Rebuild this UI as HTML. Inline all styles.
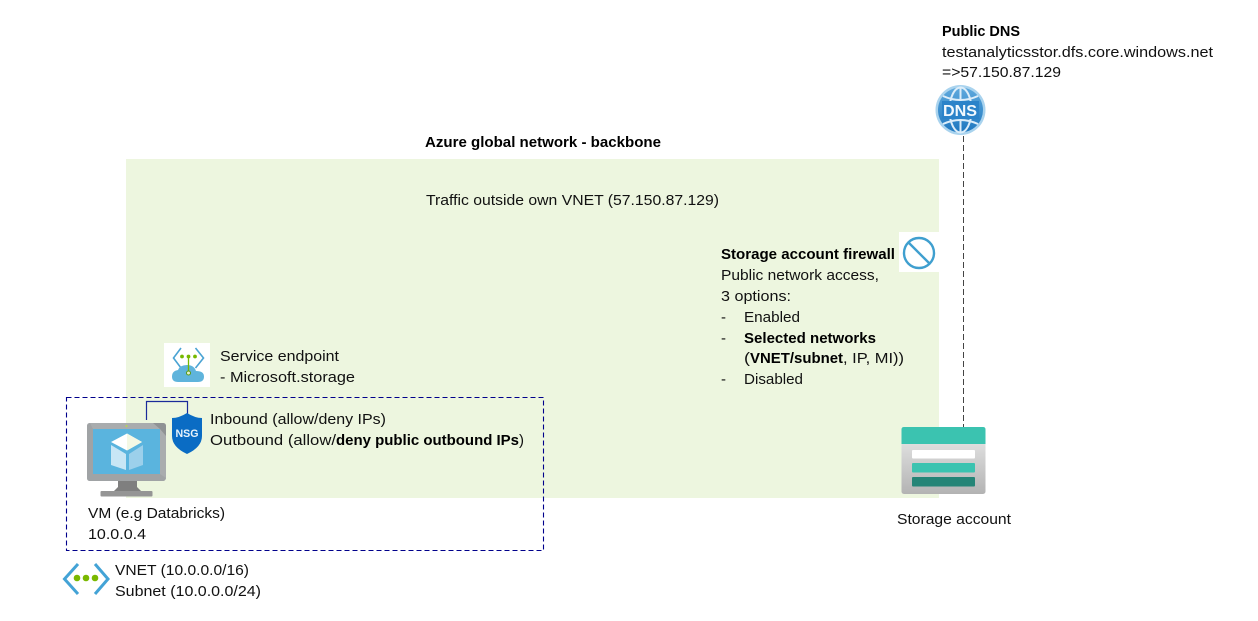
<!DOCTYPE html>
<html>
<head>
<meta charset="utf-8">
<style>
html,body{margin:0;padding:0;background:#fff;width:1258px;height:621px;overflow:hidden}
svg{display:block}
text{font-family:"Liberation Sans",sans-serif;font-size:15px;fill:#111}
.b{font-weight:bold;fill:#000}
</style>
</head>
<body>
<svg width="1258" height="621" viewBox="0 0 1258 621" xmlns="http://www.w3.org/2000/svg">
<defs>
<linearGradient id="sg" x1="0" y1="0" x2="0" y2="1"><stop offset="0" stop-color="#ececec"/><stop offset="1" stop-color="#b3b3b3"/></linearGradient>
<linearGradient id="dn" x1="0" y1="0" x2="0" y2="1"><stop offset="0" stop-color="#5ea9dd"/><stop offset="1" stop-color="#1f78c0"/></linearGradient>
</defs>
<rect x="126" y="159" width="813" height="339" fill="#edf6df"/>

<!-- DNS dashed line -->
<line x1="963.5" y1="136" x2="963.5" y2="427" stroke="#444" stroke-width="1" stroke-dasharray="6 3"/>

<!-- VNET dashed box -->
<rect x="66.5" y="397.5" width="477" height="153" fill="none" stroke="#00008b" stroke-width="1.1" stroke-dasharray="5 3"/>

<!-- Top text -->
<text class="b" x="942" y="36" textLength="78" lengthAdjust="spacingAndGlyphs">Public DNS</text>
<text x="942" y="57" textLength="271" lengthAdjust="spacingAndGlyphs">testanalyticsstor.dfs.core.windows.net</text>
<text x="942" y="77" textLength="119" lengthAdjust="spacingAndGlyphs">=&gt;57.150.87.129</text>
<text class="b" x="425" y="147" textLength="236" lengthAdjust="spacingAndGlyphs">Azure global network - backbone</text>
<text x="426" y="205" textLength="293" lengthAdjust="spacingAndGlyphs">Traffic outside own VNET (57.150.87.129)</text>

<!-- Firewall text -->
<text class="b" x="721" y="259" textLength="174" lengthAdjust="spacingAndGlyphs">Storage account firewall</text>
<text x="721" y="280" textLength="158" lengthAdjust="spacingAndGlyphs">Public network access,</text>
<text x="721" y="301" textLength="70" lengthAdjust="spacingAndGlyphs">3 options:</text>
<text x="721" y="322">-</text>
<text x="744" y="322" textLength="56" lengthAdjust="spacingAndGlyphs">Enabled</text>
<text x="721" y="343">-</text>
<text class="b" x="744" y="343" textLength="132" lengthAdjust="spacingAndGlyphs">Selected networks</text>
<text x="744" y="363" textLength="6" lengthAdjust="spacingAndGlyphs">(</text>
<text class="b" x="750" y="363" textLength="93" lengthAdjust="spacingAndGlyphs">VNET/subnet</text>
<text x="843" y="363" textLength="61" lengthAdjust="spacingAndGlyphs">, IP, MI))</text>
<text x="721" y="384">-</text>
<text x="744" y="384" textLength="59" lengthAdjust="spacingAndGlyphs">Disabled</text>

<!-- No-entry icon -->
<rect x="899" y="232" width="40" height="40" fill="#fff"/>
<circle cx="919" cy="253" r="15" fill="none" stroke="#3f9fcf" stroke-width="2.4"/>
<line x1="908.5" y1="242.5" x2="929.5" y2="263.5" stroke="#3f9fcf" stroke-width="2.4"/>

<!-- DNS icon -->
<circle cx="960.5" cy="110" r="25" fill="#a9d3ee"/>
<circle cx="960.5" cy="110" r="22.5" fill="url(#dn)"/>
<g fill="none" stroke="#dcedf9" stroke-width="2">
<ellipse cx="960.5" cy="110" rx="11" ry="22.5"/>
<path d="M943 96Q960.5 104 978 96M943 124Q960.5 116 978 124"/>
<path d="M960.5 87.500V132.500"/>
</g>
<rect x="942" y="101" width="37" height="18" fill="#2b83c9"/>
<text x="943" y="116" textLength="34" lengthAdjust="spacingAndGlyphs" style="font-size:16px;font-weight:bold;fill:#f2f9fe">DNS</text>

<!-- Service endpoint icon -->
<rect x="164" y="343" width="46" height="44" fill="#fff"/>
<path d="M181 348L173.500 358L181 368M195.500 348L203.500 358L195.500 368" fill="none" stroke="#4aa3d3" stroke-width="1.6"/>
<path d="M178 382Q172 382 172 376.500Q172 371 178 370Q180 365 187 365Q194 365 196 371Q204 371 204 376.500Q204 382 198 382Z" fill="#5fb4dc"/>
<circle cx="182" cy="356.500" r="1.900" fill="#76b900"/><circle cx="188.500" cy="356.500" r="1.900" fill="#76b900"/><circle cx="195" cy="356.500" r="1.900" fill="#76b900"/>
<line x1="188.500" y1="356.500" x2="188.500" y2="373" stroke="#76b900" stroke-width="1.300"/>
<circle cx="188.500" cy="373" r="2" fill="#e4f2d0" stroke="#5c9a10"/>
<text x="220" y="361" textLength="119" lengthAdjust="spacingAndGlyphs">Service endpoint</text>
<text x="220" y="382" textLength="135" lengthAdjust="spacingAndGlyphs">- Microsoft.storage</text>

<!-- Connector VM-NSG -->
<path d="M146.500 420V401.500H187.500V414" fill="none" stroke="#1a2a9a" stroke-width="1.200"/>

<!-- Monitor -->
<path d="M118 480H137V487L141 491H114L118 487Z" fill="#7f7f7f"/>
<rect x="100.500" y="491" width="52" height="5.500" rx="1" fill="#959595"/>
<rect x="87" y="423" width="79" height="58" rx="3" fill="#a9acae"/>
<path d="M87 426Q87 423 90 423L93 429V474H160L166 478Q165 481 163 481H90Q87 481 87 478Z" fill="#a0a3a5"/>
<path d="M153 423H163Q166 423 166 426V436L160 429Z" fill="#8f9294"/>
<circle cx="126.500" cy="426" r="1" fill="#b5d94c"/>
<rect x="93" y="429" width="67" height="45" fill="#5ab4de"/>
<path d="M127 433.500L111 442L127 450.500L142 442Z" fill="#fff"/>
<path d="M127 433.500L142 442L127 450.500Z" fill="#f4f8e4"/>
<path d="M111 445V465L126 470V454Z" fill="#c8e6f5"/>
<path d="M129 454V470L143 465V445Z" fill="#9cd0eb"/>

<!-- NSG shield -->
<path d="M187 413Q179 418 172 418V436Q172 447 187 454Q202 447 202 436V418Q195 418 187 413Z" fill="#0a6cc4"/>
<text x="175.500" y="437" textLength="23" lengthAdjust="spacingAndGlyphs" style="font-size:11px;font-weight:bold;fill:#e8f3fb">NSG</text>

<!-- NSG text -->
<text x="210" y="424" textLength="176" lengthAdjust="spacingAndGlyphs">Inbound (allow/deny IPs)</text>
<text x="210" y="445" textLength="126" lengthAdjust="spacingAndGlyphs">Outbound (allow/</text>
<text class="b" x="336" y="445" textLength="183" lengthAdjust="spacingAndGlyphs">deny public outbound IPs</text>
<text x="519" y="445" textLength="5" lengthAdjust="spacingAndGlyphs">)</text>

<!-- VM text -->
<text x="88" y="518" textLength="137" lengthAdjust="spacingAndGlyphs">VM (e.g Databricks)</text>
<text x="88" y="539" textLength="58" lengthAdjust="spacingAndGlyphs">10.0.0.4</text>

<!-- VNET icon -->
<path d="M78 564L64.500 579L78 594M95 564L108 579L95 594" fill="none" stroke="#43a3d6" stroke-width="3"/>
<circle cx="77" cy="578" r="3.300" fill="#7ab800"/><circle cx="86" cy="578" r="3.300" fill="#7ab800"/><circle cx="95" cy="578" r="3.300" fill="#7ab800"/>
<text x="115" y="575" textLength="134" lengthAdjust="spacingAndGlyphs">VNET (10.0.0.0/16)</text>
<text x="115" y="596" textLength="146" lengthAdjust="spacingAndGlyphs">Subnet (10.0.0.0/24)</text>

<!-- Storage icon -->
<rect x="901.500" y="427" width="84" height="67" rx="2.500" fill="url(#sg)"/>
<path d="M901.500 444V429.500Q901.500 427 904 427H983Q985.500 427 985.500 429.500V444Z" fill="#3bc3b0"/>
<rect x="912" y="450" width="63" height="8.500" rx="1" fill="#fff"/>
<rect x="912" y="463" width="63" height="9.500" rx="1" fill="#3bc3b0"/>
<rect x="912" y="477" width="63" height="9.500" rx="1" fill="#258577"/>
<text x="897" y="524" textLength="114" lengthAdjust="spacingAndGlyphs">Storage account</text>
</svg>
</body>
</html>
